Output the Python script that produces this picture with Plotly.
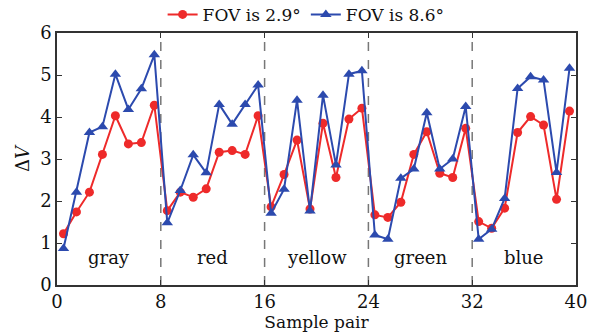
import plotly.graph_objects as go

x_pos = [i + 0.5 for i in range(40)]
fov_29 = [1.22, 1.74, 2.21, 3.11, 4.03, 3.36, 3.39, 4.28,
          1.77, 2.21, 2.09, 2.29, 3.16, 3.20, 3.11, 4.03,
          1.86, 2.63, 3.45, 1.81, 3.85, 2.56, 3.95, 4.21,
          1.67, 1.61, 1.97, 3.11, 3.65, 2.66, 2.56, 3.73,
          1.51, 1.35, 1.83, 3.63, 4.01, 3.81, 2.04, 4.14]
fov_86 = [0.87, 2.21, 3.63, 3.77, 5.02, 4.18, 4.67, 5.48,
          1.48, 2.25, 3.10, 2.67, 4.30, 3.83, 4.30, 4.76,
          1.71, 2.28, 4.40, 1.76, 4.52, 2.86, 5.02, 5.10,
          1.19, 1.09, 2.54, 2.76, 4.10, 2.76, 3.00, 4.25,
          1.09, 1.33, 2.06, 4.68, 4.96, 4.88, 2.68, 5.16]
groups = ["gray", "red", "yellow", "green", "blue"]
group_centers = [4, 12, 20, 28, 36]
dividers = [8, 16, 24, 32]
x_ticks = [0, 8, 16, 24, 32, 40]

FONT = "DejaVu Serif"
RED = "#ee2a2a"
BLUE = "#2c4aae"

fig = go.Figure()
fig.add_trace(go.Scatter(x=x_pos, y=fov_29, mode="lines+markers", name="FOV is 2.9°",
                         line=dict(color=RED, width=2),
                         marker=dict(symbol="circle", size=9, color=RED)))
fig.add_trace(go.Scatter(x=x_pos, y=fov_86, mode="lines+markers", name="FOV is 8.6°",
                         line=dict(color=BLUE, width=2),
                         marker=dict(symbol="triangle-up", size=10, color=BLUE)))

for d in dividers:
    fig.add_shape(type="line", x0=d, x1=d, y0=0, y1=1, xref="x", yref="paper",
                  line=dict(color="#777777", width=1.5, dash="dash"), layer="below")

for g, c in zip(groups, group_centers):
    fig.add_annotation(x=c, y=0.65, text=g, showarrow=False,
                       font=dict(family=FONT, size=18, color="#111111"))

axis_common = dict(showline=True, linecolor="#333333", linewidth=1.5, mirror="ticks",
                   ticks="inside", ticklen=5, tickcolor="#333333", showgrid=False,
                   zeroline=False, automargin=False,
                   tickfont=dict(family=FONT, size=18, color="#111111"))

fig.update_layout(
    width=597, height=333,
    margin=dict(l=57, r=21, t=33, b=48, autoexpand=False),
    paper_bgcolor="white", plot_bgcolor="white",
    font=dict(family=FONT, size=17, color="#111111"),
    showlegend=True,
    legend=dict(orientation="h", x=0.48, xanchor="center", y=1.072, yanchor="middle",
                font=dict(family=FONT, size=17), itemwidth=30,
                bgcolor="rgba(0,0,0,0)"),
    xaxis=dict(range=[0, 40], tickvals=x_ticks, ticktext=[str(t) for t in x_ticks],
               ticklabelstandoff=0,
               title=dict(text="Sample pair", font=dict(family=FONT, size=17), standoff=0),
               **axis_common),
    yaxis=dict(range=[0, 6], tickvals=[0, 1, 2, 3, 4, 5, 6],
               title=dict(text="Δ<i>V</i>", font=dict(family=FONT, size=18), standoff=6),
               **axis_common),
)

# remove the page's default body margin so the figure fills the window exactly
fig.write_html("out.html", config={"displayModeBar": False},
               post_script="document.body.style.margin='0px';")
